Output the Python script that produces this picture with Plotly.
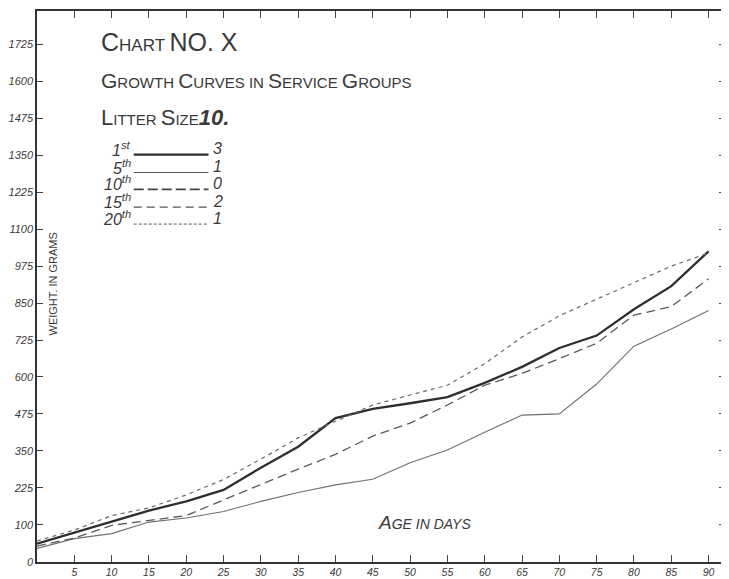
import plotly.graph_objects as go

days = [0, 5, 10, 15, 20, 25, 30, 35, 40, 45, 50, 55, 60, 65, 70, 75, 80, 85, 90]
first = [36, 74, 112, 148, 179, 218, 293, 364, 461, 492, 511, 532, 580, 634, 698, 740, 829, 907, 1025]
fifth = [20, 53, 70, 109, 123, 145, 179, 209, 235, 254, 310, 353, 413, 471, 475, 576, 704, 762, 825]
fifteenth = [28, 55, 98, 115, 131, 184, 237, 288, 338, 400, 444, 505, 572, 612, 662, 714, 809, 838, 932]
twentieth = [45, 82, 131, 157, 201, 253, 322, 394, 450, 505, 539, 572, 645, 735, 807, 863, 919, 975, 1019]

x_ticks = [5, 10, 15, 20, 25, 30, 35, 40, 45, 50, 55, 60, 65, 70, 75, 80, 85, 90]
y_tickvals = [-25, 100, 225, 350, 475, 600, 725, 850, 975, 1100, 1225, 1350, 1475, 1600, 1725]
y_ticktext = ["0", "100", "225", "350", "475", "600", "725", "850", "975",
              "1100", "1225", "1350", "1475", "1600", "1725"]

legend_labels = ["1<sup>st</sup>", "5<sup>th</sup>", "10<sup>th</sup>", "15<sup>th</sup>", "20<sup>th</sup>"]
legend_counts = ["3", "1", "0", "2", "1"]

# page has an 8px body margin: figure occupies window pixels 8..729, 8..579
OFF = 8
W, H = 721, 571
L, R, T, B = 27, 4, 1, 14
PW, PH = W - L - R, H - T - B

def px(xa):
    return (xa - OFF - L) / PW

def py(ya):
    return (H - B - (ya - OFF)) / PH

ink = "#3a3a3a"
fig = go.Figure()
fig.add_trace(go.Scatter(x=days, y=first, mode="lines", name="1st",
                         line=dict(color="#2e2e2e", width=2.3)))
fig.add_trace(go.Scatter(x=days, y=fifth, mode="lines", name="5th",
                         line=dict(color="#707070", width=1.1)))
fig.add_trace(go.Scatter(x=days, y=fifteenth, mode="lines", name="15th",
                         line=dict(color="#5a5a5a", width=1.3, dash="9px,5px")))
fig.add_trace(go.Scatter(x=days, y=twentieth, mode="lines", name="20th",
                         line=dict(color="#6a6a6a", width=1.2, dash="4px,4px")))

font_fam = "Liberation Sans, DejaVu Sans, sans-serif"
ann = []
big = "font-size:25px"
ann.append(dict(x=px(97), y=py(40), xref="paper", yref="paper", xanchor="left", yanchor="middle",
                showarrow=False, font=dict(size=17, color=ink, family=font_fam),
                text=f"<span style='{big}'>C</span>HART <span style='{big}'>NO. X</span>"))
mid = "font-size:21px"
ann.append(dict(x=px(97), y=py(79), xref="paper", yref="paper", xanchor="left", yanchor="middle",
                showarrow=False, font=dict(size=15, color=ink, family=font_fam),
                text=f"<span style='{mid}'>G</span>ROWTH <span style='{mid}'>C</span>URVES IN "
                     f"<span style='{mid}'>S</span>ERVICE <span style='{mid}'>G</span>ROUPS"))
ann.append(dict(x=px(97), y=py(116), xref="paper", yref="paper", xanchor="left", yanchor="middle",
                showarrow=False, font=dict(size=15, color=ink, family=font_fam),
                text=f"<span style='font-size:22px'>L</span>ITTER <span style='font-size:22px'>S</span>IZE"
                     f"<span style='font-size:22px'><b><i>10.</i></b></span>"))

row_y = [154, 172, 189, 207, 224]
styles = [dict(width=2.3, dash="solid", color="#2e2e2e"),
          dict(width=1.1, dash="solid", color="#555"),
          dict(width=1.6, dash="10px,4px", color="#444"),
          dict(width=1.2, dash="8px,5px", color="#555"),
          dict(width=1.0, dash="3px,2px", color="#555")]
shapes = []
for lab, cnt, yy, st in zip(legend_labels, legend_counts, row_y, styles):
    ann.append(dict(x=px(131), y=py(yy - 6), xref="paper", yref="paper", xanchor="right",
                    yanchor="middle", showarrow=False,
                    font=dict(size=16, color=ink, family=font_fam, style="italic"), text=lab))
    ann.append(dict(x=px(210), y=py(yy - 6), xref="paper", yref="paper", xanchor="left",
                    yanchor="middle", showarrow=False,
                    font=dict(size=16, color=ink, family=font_fam, style="italic"), text=cnt))
    shapes.append(dict(type="line", xref="paper", yref="paper", x0=px(132), x1=px(207),
                       y0=py(yy), y1=py(yy), line=st))

ann.append(dict(x=px(51), y=py(284), xref="paper", yref="paper", xanchor="center",
                yanchor="middle", showarrow=False, textangle=-90,
                font=dict(size=11, color=ink, family=font_fam), text="WEIGHT. IN GRAMS"))
ann.append(dict(x=px(375), y=py(525), xref="paper", yref="paper", xanchor="left",
                yanchor="middle", showarrow=False,
                font=dict(size=14, color=ink, family=font_fam, style="italic"),
                text="<span style='font-size:19px'>A</span>GE IN DAYS"))

fig.update_layout(
    width=W, height=H,
    margin=dict(l=L, r=R, t=T, b=B),
    paper_bgcolor="white", plot_bgcolor="white",
    showlegend=False,
    annotations=ann, shapes=shapes,
    xaxis=dict(range=[0, 92.2], tickvals=x_ticks, ticktext=[str(v) for v in x_ticks],
               showgrid=False, zeroline=False, showline=True, linecolor="#333", linewidth=1.5,
               mirror="ticks", ticks="inside", ticklen=7, tickcolor="#444", tickwidth=1,
               ticklabelstandoff=0,
               tickfont=dict(size=10.5, color=ink, family=font_fam, style="italic")),
    yaxis=dict(range=[-26, 1838], tickvals=y_tickvals, ticktext=y_ticktext,
               showgrid=False, zeroline=False, showline=True, linecolor="#333", linewidth=1.5,
               mirror="ticks", ticks="inside", ticklen=6, tickcolor="#444", tickwidth=1,
               tickfont=dict(size=11, color=ink, family=font_fam, style="italic")),
)

fig.write_html("out.html")
